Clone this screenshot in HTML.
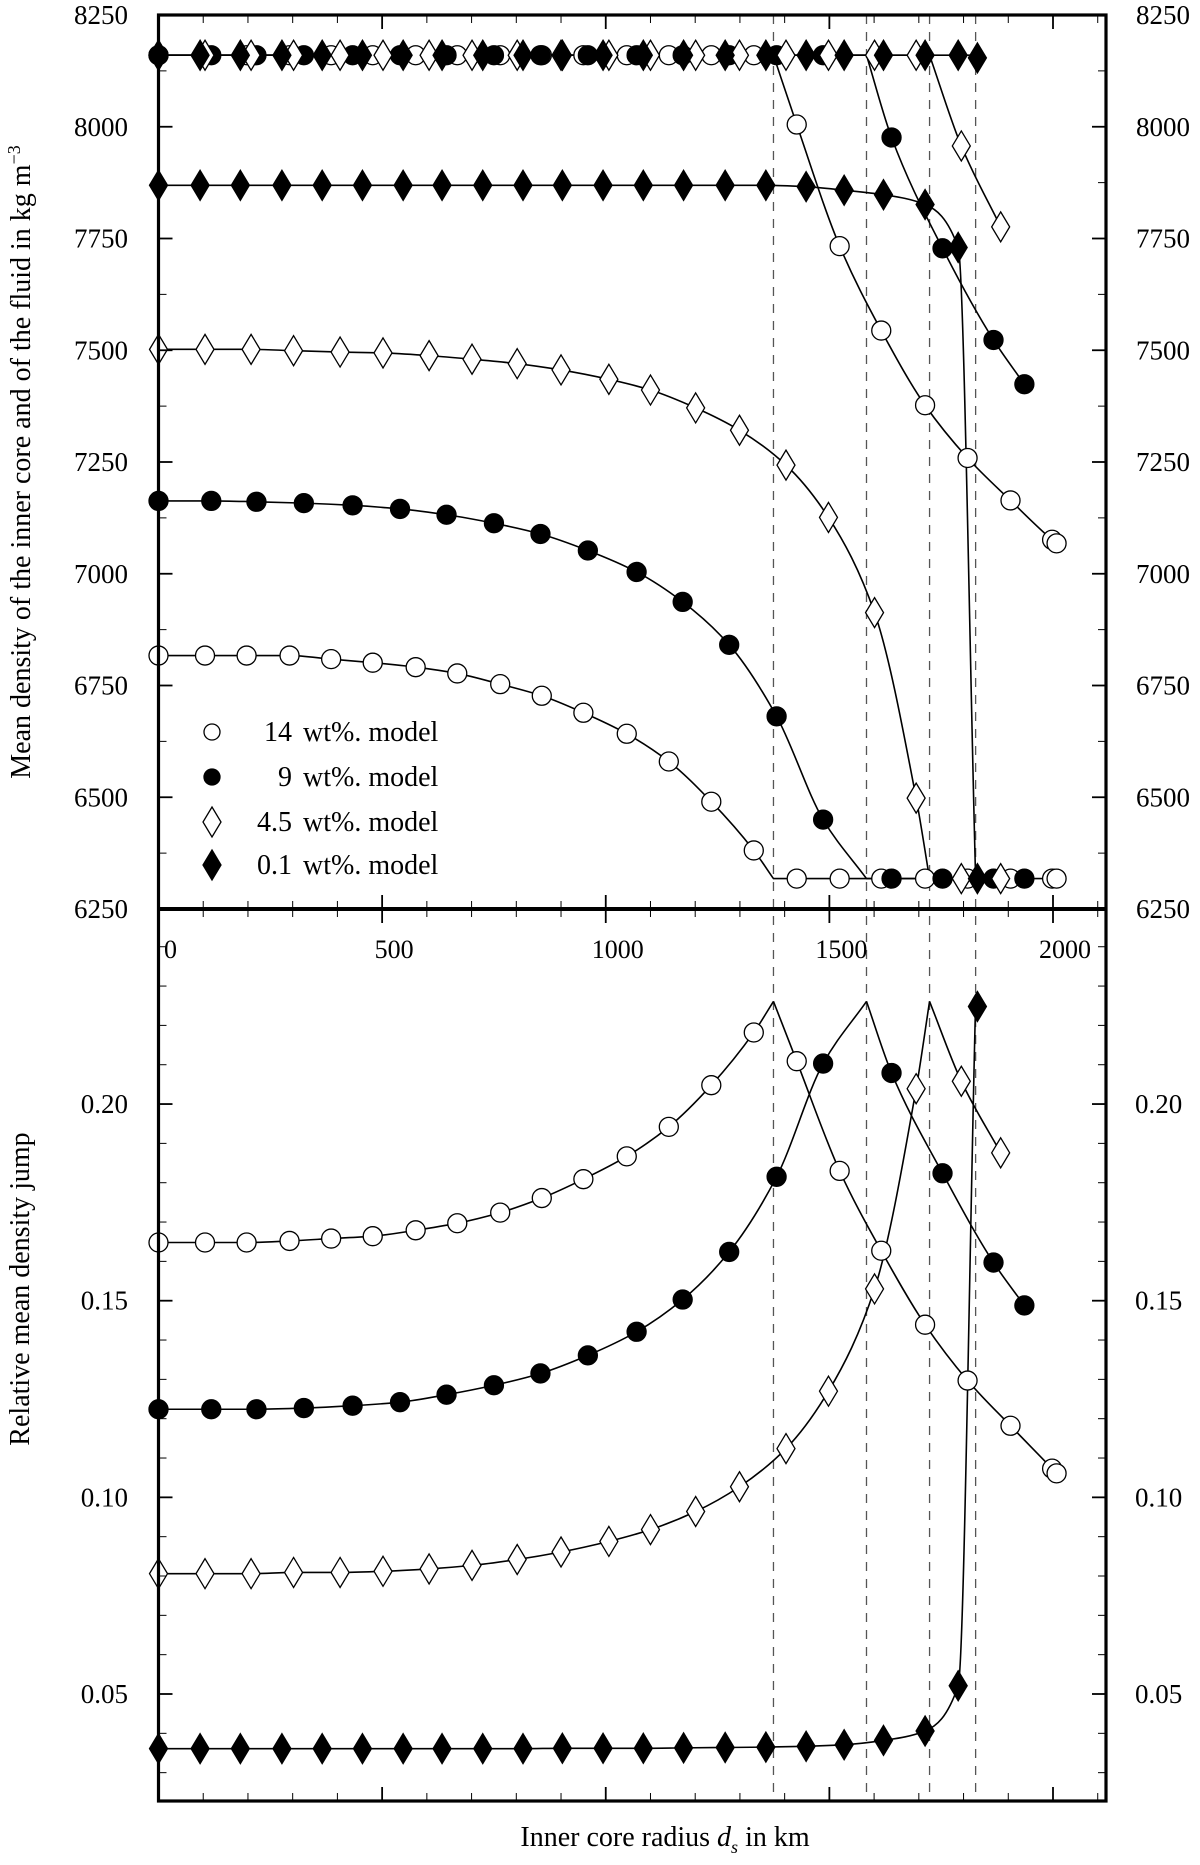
<!DOCTYPE html>
<html><head><meta charset="utf-8"><style>
html,body{margin:0;padding:0;background:#fff;}
svg{display:block;}
svg text{font-family:"Liberation Serif",serif;}
</style></head><body>
<svg id="chart" width="1200" height="1865" viewBox="0 0 1200 1865" font-family="Liberation Serif, serif"></svg>
<script>
// ---- data (km) ----
const transitionKm = [1375, 1583, 1724, 1827];
const seriesNames = ["14 wt%. model","9 wt%. model","4.5 wt%. model","0.1 wt%. model"];
const xBefore14 = [0,104,197,293,386,479,575,668,764,857,950,1047,1141,1236,1331];
const xBefore9  = [0,118,219,325,434,540,644,750,854,960,1069,1172,1276,1382,1486];
const xBefore45 = [0,104,207,302,406,502,605,701,802,900,1007,1100,1201,1299,1403,1498,1601,1694];
const xBefore01 = [0,93,183,276,366,456,547,634,725,815,903,994,1084,1174,1267,1358,1448,1533,1621,1714,1788];
const fluid14 = [6817,6817,6817,6817,6809,6801,6791,6777,6753,6727,6689,6642,6580,6490,6381];
const fluid9  = [7163,7163,7161,7158,7153,7145,7132,7113,7089,7052,7004,6937,6841,6681,6450];
const fluid45 = [7502,7502,7502,7499,7496,7494,7488,7480,7470,7456,7435,7411,7371,7321,7243,7126,6913,6498];
const fluid01 = [7869,7869,7869,7869,7869,7869,7869,7869,7869,7869,7869,7869,7869,7869,7869,7869,7866,7858,7848,7826,7730];
const coreDensity = 8160;
const fluidFloor = 6318;
const xAfter14 = [1427,1523,1616,1714,1809,1905,1998,2008];
const xAfter9  = [1639,1753,1867,1936];
const xAfter45 = [1795,1883];
const xAfter01 = [1831];
const core14 = [8005,7733,7544,7377,7259,7164,7076,7068];
const core9  = [7976,7728,7523,7424];
const core45 = [7957,7776];
const core01 = [8154];
const jump14 = [0.1648,0.1648,0.1648,0.1652,0.1658,0.1664,0.1679,0.1697,0.1724,0.1761,0.1809,0.1867,0.1942,0.2048,0.2182];
const jump9  = [0.1224,0.1224,0.1224,0.1227,0.1233,0.1242,0.1261,0.1285,0.1315,0.1361,0.1421,0.1503,0.1624,0.1815,0.2103];
const jump45 = [0.0806,0.0806,0.0806,0.0809,0.0809,0.0812,0.0818,0.0827,0.0842,0.0861,0.0888,0.0918,0.0964,0.1027,0.1124,0.1270,0.1530,0.2039];
const jump01 = [0.0361,0.0361,0.0361,0.0361,0.0361,0.0361,0.0361,0.0361,0.0361,0.0361,0.0362,0.0362,0.0362,0.0363,0.0364,0.0365,0.0367,0.0371,0.0382,0.0406,0.0521];
const jumpPeak = [0.2261,0.2261,0.2261,0.2261];
const jumpAfter14 = [0.2109,0.1830,0.1627,0.1439,0.1297,0.1182,0.1073,0.1061];
const jumpAfter9  = [0.2079,0.1824,0.1597,0.1488];
const jumpAfter45 = [0.2058,0.1876];
const jumpAfter01 = [0.2248];
const xTicks = [0,500,1000,1500,2000];
const topTicks = [6250,6500,6750,7000,7250,7500,7750,8000,8250];
const botTicks = [0.05,0.10,0.15,0.20];

const L=158.5, R=1106, T=15, M=909, B=1801;
const X = v => L + v*0.44725;
const Yt = v => T + (8250 - v)*(M-T)/2000;
const Yb = v => 1694 - (v-0.05)*3933;

const svg = document.getElementById('chart');
const NS='http://www.w3.org/2000/svg';
function mk(tag, attrs, parent){const e=document.createElementNS(NS,tag);for(const k in attrs)e.setAttribute(k,attrs[k]);(parent||svg).appendChild(e);return e;}
const FF='Liberation Serif, serif';

// monotone cubic (Fritsch-Carlson) path, pts sorted by x
function smooth(pts){
  const n=pts.length;
  if(n<2) return '';
  let d='M'+pts[0][0]+','+pts[0][1];
  if(n===2) return d+' L'+pts[1][0]+','+pts[1][1];
  const dx=[],dy=[],m=[];
  for(let i=0;i<n-1;i++){dx.push(pts[i+1][0]-pts[i][0]);dy.push(pts[i+1][1]-pts[i][1]);m.push(dy[i]/dx[i]);}
  const t=[m[0]];
  for(let i=1;i<n-1;i++){
    if(m[i-1]*m[i]<=0) t.push(0);
    else{const w1=2*dx[i]+dx[i-1],w2=dx[i]+2*dx[i-1];t.push((w1+w2)/(w1/m[i-1]+w2/m[i]));}
  }
  t.push(m[n-2]);
  for(let i=0;i<n-1;i++){
    const h=dx[i];
    d+=' C'+(pts[i][0]+h/3)+','+(pts[i][1]+t[i]*h/3)+' '+(pts[i+1][0]-h/3)+','+(pts[i+1][1]-t[i+1]*h/3)+' '+pts[i+1][0]+','+pts[i+1][1];
  }
  return d;
}

const gDash = mk('g',{});


transitionKm.forEach(t=>{
  const l=mk('line',{x1:X(t),x2:X(t),y1:T,y2:1795,stroke:'#555','stroke-width':1.3,'stroke-dasharray':'9,8'},gDash);
  
  
});

const S = [
 {xb:xBefore14,fl:fluid14,xa:xAfter14,co:core14,jb:jump14,ja:jumpAfter14,m:'circle',fill:'#fff'},
 {xb:xBefore9, fl:fluid9, xa:xAfter9, co:core9, jb:jump9, ja:jumpAfter9, m:'circle',fill:'#000'},
 {xb:xBefore45,fl:fluid45,xa:xAfter45,co:core45,jb:jump45,ja:jumpAfter45,m:'diamond',fill:'#fff'},
 {xb:xBefore01,fl:fluid01,xa:xAfter01,co:core01,jb:jump01,ja:jumpAfter01,m:'diamond',fill:'#000'}
];

function marker(type, fill, x, y, parent, name){
  let e;
  if(type==='circle') e=mk('circle',{cx:x,cy:y,r:9.5,fill:fill,stroke:'#000','stroke-width':1.3},parent);
  else e=mk('polygon',{points:`${x},${y-15} ${x+9},${y} ${x},${y+15} ${x-9},${y}`,fill:fill,stroke:'#000','stroke-width':1.3},parent);
  
  
  return e;
}

const lineStyle={fill:'none',stroke:'#000','stroke-width':1.6};
S.forEach((s,i)=>{
  const t=transitionKm[i];
  const g=mk('g',{});
  
  
  const fp=s.xb.map((x,j)=>[X(x),Yt(s.fl[j])]); fp.push([X(t),Yt(fluidFloor)]);
  const lastX=Math.max(...s.xa, t);
  let p=mk('path',Object.assign({d:smooth(fp)+' L'+X(lastX)+','+Yt(fluidFloor)},lineStyle),g);
  
  
  const cp=[[X(t),Yt(coreDensity)]].concat(s.xa.map((x,j)=>[X(x),Yt(s.co[j])]));
  p=mk('path',Object.assign({d:'M'+X(0)+','+Yt(coreDensity)+' L'+X(t)+','+Yt(coreDensity)+' '+smooth(cp).replace(/^M/,'L')},lineStyle),g);
  
  
  const bp=s.xb.map((x,j)=>[X(x),Yb(s.jb[j])]); bp.push([X(t),Yb(jumpPeak[i])]);
  p=mk('path',Object.assign({d:smooth(bp)},lineStyle),g);
  
  
  const ap=[[X(t),Yb(jumpPeak[i])]].concat(s.xa.map((x,j)=>[X(x),Yb(s.ja[j])]));
  p=mk('path',Object.assign({d:smooth(ap)},lineStyle),g);
  
  
});
S.forEach((s,i)=>{
  const g=mk('g',{});
  
  
  s.xb.forEach((x,j)=>{
    marker(s.m,s.fill,X(x),Yt(s.fl[j]),g,'fluid-point');
    marker(s.m,s.fill,X(x),Yt(coreDensity),g,'core-point');
    marker(s.m,s.fill,X(x),Yb(s.jb[j]),g,'jump-point');
  });
  s.xa.forEach((x,j)=>{
    marker(s.m,s.fill,X(x),Yt(s.co[j]),g,'core-point');
    marker(s.m,s.fill,X(x),Yt(fluidFloor),g,'fluid-point');
    marker(s.m,s.fill,X(x),Yb(s.ja[j]),g,'jump-point');
  });
});

const ax=mk('g',{});


mk('rect',{x:L,y:T,width:R-L,height:B-T,fill:'none',stroke:'#000','stroke-width':3.2},ax);
mk('line',{x1:L,x2:R,y1:M,y2:M,stroke:'#000','stroke-width':4},ax);
for(let v=0; v<=2100; v+=100){
  const major=v%500===0, len=major?14:8, x=X(v);
  [T,M,B].forEach((y,k)=>{
    if(k!==2) mk('line',{x1:x,x2:x,y1:y,y2:y+len,stroke:'#000','stroke-width':major?1.8:1},ax);
    if(k!==0) mk('line',{x1:x,x2:x,y1:y,y2:y-len,stroke:'#000','stroke-width':major?1.8:1},ax);
  });
}
xTicks.forEach(v=>{
  const t=mk('text',{x:X(v)+12,y:958,'font-size':26,'text-anchor':'middle','font-family':FF},ax);
  t.textContent=v;
  
  
});
for(let v=6250; v<=8250; v+=125){
  const major=v%250===0, len=major?14:8, y=Yt(v);
  mk('line',{x1:L,x2:L+len,y1:y,y2:y,stroke:'#000','stroke-width':major?1.8:1},ax);
  mk('line',{x1:R,x2:R-len,y1:y,y2:y,stroke:'#000','stroke-width':major?1.8:1},ax);
}
topTicks.forEach(v=>{
  let t=mk('text',{x:128,y:Yt(v)+9,'font-size':27,'text-anchor':'end','font-family':FF},ax); t.textContent=v;
   
  t=mk('text',{x:1136,y:Yt(v)+9,'font-size':27,'font-family':FF},ax); t.textContent=v;
   
});
for(let k=3; k<=24; k++){
  const v=k/100, major=k%5===0, len=major?14:8, y=Yb(v);
  if(y<M+2||y>B-2) continue;
  mk('line',{x1:L,x2:L+len,y1:y,y2:y,stroke:'#000','stroke-width':major?1.8:1},ax);
  mk('line',{x1:R,x2:R-len,y1:y,y2:y,stroke:'#000','stroke-width':major?1.8:1},ax);
}
botTicks.forEach(v=>{
  let t=mk('text',{x:128,y:Yb(v)+9,'font-size':27,'text-anchor':'end','font-family':FF},ax); t.textContent=v.toFixed(2);
   
  t=mk('text',{x:1135,y:Yb(v)+9,'font-size':27,'font-family':FF},ax); t.textContent=v.toFixed(2);
   
});

const lg=mk('g',{});


const legY=[732,777,822,865];
const legNum=["14","9","4.5","0.1"];
S.forEach((s,i)=>{
  const m=marker(s.m,s.fill,212,legY[i],lg,'legend-marker');
  if(s.m==='circle') m.setAttribute('r',8);
  const t1=mk('text',{x:292,y:legY[i]+9,'font-size':28,'text-anchor':'end','font-family':FF},lg); t1.textContent=legNum[i];
   
  const t2=mk('text',{x:303,y:legY[i]+9,'font-size':28,'font-family':FF},lg); t2.textContent='wt%. model';
   
});
</script>
<div style="position:absolute;left:0;top:0;width:1200px;height:1865px;pointer-events:none;font-family:'Liberation Serif',serif;">
  <div style="position:absolute;left:21px;top:462px;transform:translate(-50%,-50%) rotate(-90deg);white-space:nowrap;font-size:28px;">Mean density of the inner core and of the fluid in kg m<sup style="font-size:18px">−3</sup></div>
  <div style="position:absolute;left:21px;top:1289px;transform:translate(-50%,-50%) rotate(-90deg);white-space:nowrap;font-size:28px;">Relative mean density jump</div>
  <div style="position:absolute;left:665px;top:1840px;transform:translate(-50%,-50%);white-space:nowrap;font-size:28px;">Inner core radius <i>d<sub style="font-size:18px">s</sub></i> in km</div>
</div>
</body></html>
